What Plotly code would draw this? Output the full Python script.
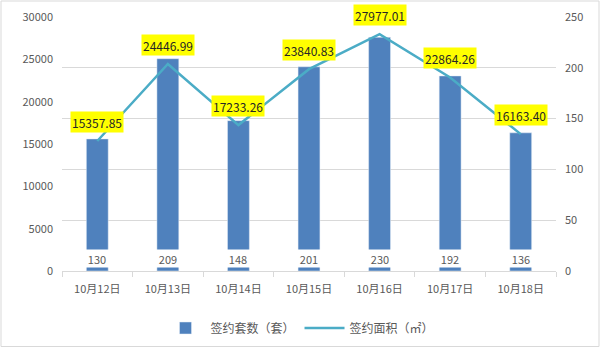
import plotly.graph_objects as go

categories = ["10月12日", "10月13日", "10月14日", "10月15日", "10月16日", "10月17日", "10月18日"]
units = [130, 209, 148, 201, 230, 192, 136]
area = [15357.85, 24446.99, 17233.26, 23840.83, 27977.01, 22864.26, 16163.40]

W, H = 600, 349
L, R, T, B = 62, 44, 17, 78
pw, ph = W - L - R, H - T - B

FONT = "Noto Sans CJK SC"
GRAY = "#595959"

fig = go.Figure()
fig.add_trace(go.Bar(x=categories, y=units, name="签约套数（套）", marker_color="#4F81BD",
                     yaxis="y", width=0.31))
fig.add_trace(go.Scatter(x=categories, y=area, name="签约面积（㎡）", mode="lines",
                         line=dict(color="#4BACC6", width=2.5), yaxis="y2"))

ann = []
for c, u in zip(categories, units):
    ann.append(dict(x=c, y=0, xref="x", yref="y", text=str(u), showarrow=False,
                    yshift=13, bgcolor="white", width=24, height=15,
                    font=dict(family=FONT, size=11, color=GRAY)))
for c, a in zip(categories, area):
    ann.append(dict(x=c, y=a, xref="x", yref="y2", text=f"{a:.2f}", showarrow=False,
                    yshift=19, bgcolor="#FFFF00", height=18, borderpad=1,
                    font=dict(family=FONT, size=12, color="#262626")))

shapes = [dict(type="rect", xref="paper", yref="paper",
               x0=(1 - L) / pw, x1=(W - 1 - L) / pw,
               y0=(H - B - 346.5) / ph, y1=(H - B - 1) / ph,
               line=dict(color="#D9D9D9", width=1), fillcolor="rgba(0,0,0,0)", layer="below")]

fig.update_layout(
    width=W, height=H,
    margin=dict(l=L, r=R, t=T, b=B, autoexpand=False),
    paper_bgcolor="white", plot_bgcolor="white",
    font=dict(family=FONT, size=11, color=GRAY),
    bargap=0.69,
    xaxis=dict(showline=True, linecolor="#D9D9D9", ticks="outside", tickson="boundaries",
               tickcolor="#D9D9D9", ticklen=5, tickfont=dict(size=11, color=GRAY),
               ticklabelstandoff=8, automargin=False),
    yaxis=dict(side="right", range=[0, 250], dtick=50, showgrid=True, gridcolor="#D9D9D9",
               zeroline=False, tickfont=dict(size=11, color=GRAY), ticklabelstandoff=8,
               tickformat="d", automargin=False),
    yaxis2=dict(side="left", overlaying="y", range=[0, 30000], dtick=5000, showgrid=False,
                zeroline=False, tickfont=dict(size=11, color=GRAY), ticklabelstandoff=8,
                tickformat="d", automargin=False),
    legend=dict(orientation="h", x=0.5, xanchor="center", xref="container",
                y=(H - 328) / H, yanchor="middle", yref="container",
                font=dict(size=12, color=GRAY), traceorder="normal", itemwidth=40),
    annotations=ann,
    shapes=shapes,
)

fig.write_html("out.html")
